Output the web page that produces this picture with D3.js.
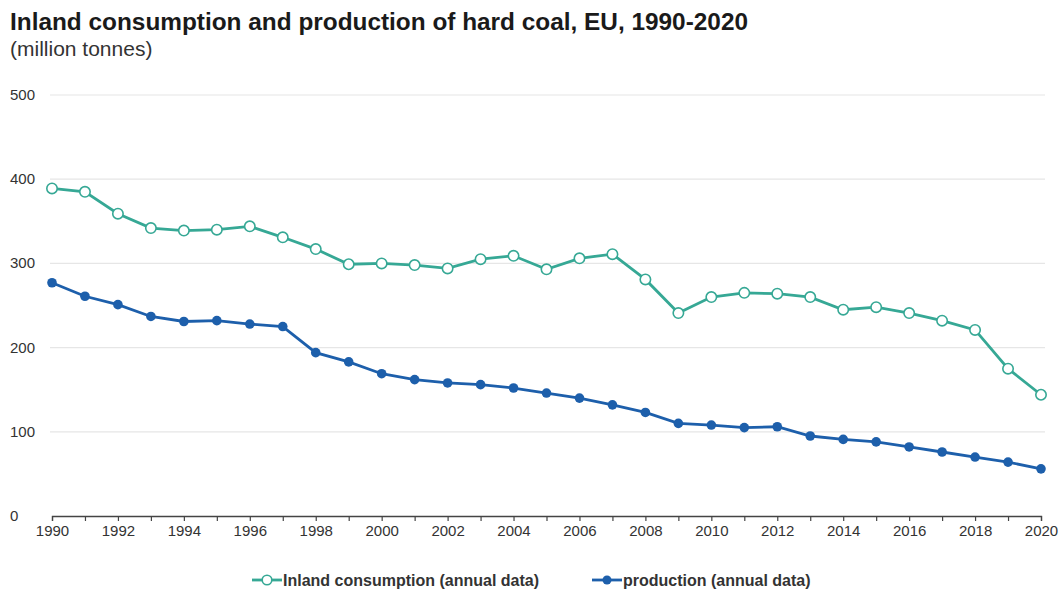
<!DOCTYPE html>
<html>
<head>
<meta charset="utf-8">
<script src="https://cdn.jsdelivr.net/npm/d3@7"></script>
<style>
  html, body { margin: 0; padding: 0; background: #fff; }
  svg { display: block; font-family: "Liberation Sans", Arial, sans-serif; }
</style>
</head>
<body>
<svg id="chart" width="1063" height="594"></svg>
<script>
// Hard coal, EU, million tonnes
const years = d3.range(1990, 2021);
const consumption = [389, 385, 359, 342, 339, 340, 344, 331, 317, 299,
                     300, 298, 294, 305, 309, 293, 306, 311, 281, 241,
                     260, 265, 264, 260, 245, 248, 241, 232, 221, 175, 144];
const production = [277, 261, 251, 237, 231, 232, 228, 225, 194, 183,
                    169, 162, 158, 156, 152, 146, 140, 132, 123, 110,
                    108, 105, 106, 95, 91, 88, 82, 76, 70, 64, 56];
const yTicks = [0, 100, 200, 300, 400, 500];
const xLabelYears = d3.range(1990, 2021, 2);

const title = "Inland consumption and production of hard coal, EU, 1990-2020";
const subtitle = "(million tonnes)";
const seriesNames = ["Inland consumption (annual data)", "production (annual data)"];

const tealColor = "#36a895";
const blueColor = "#1d5fab";

const svg = d3.select("#chart");
const margin = { left: 52, right: 22, top: 95, bottom: 78 };
const W = 1063, H = 594;

const x = d3.scaleLinear().domain([1990, 2020]).range([margin.left, W - margin.right]);
const y = d3.scaleLinear().domain([0, 500]).range([H - margin.bottom, margin.top]);

// title block
svg.append("text").attr("x", 10).attr("y", 30)
  .attr("font-size", 23).attr("font-weight", "bold").attr("fill", "#1a1a1a")
  .attr("textLength", 738).attr("lengthAdjust", "spacingAndGlyphs")
  .text(title);
svg.append("text").attr("x", 10).attr("y", 56)
  .attr("font-size", 21).attr("fill", "#333")
  .text(subtitle);

// horizontal gridlines
svg.append("g").selectAll("line").data(yTicks.filter(d => d > 0)).join("line")
  .attr("x1", x(1990) - 2).attr("x2", W - 18)
  .attr("y1", d => y(d)).attr("y2", d => y(d))
  .attr("stroke", "#e6e6e6").attr("stroke-width", 1.2);

// y labels
svg.append("g").selectAll("text").data(yTicks).join("text")
  .attr("x", 10).attr("y", d => y(d) + 5)
  .attr("font-size", 15).attr("fill", "#333")
  .text(d => d);

// x axis
const xAxis = d3.axisBottom(x)
  .tickValues(years)
  .tickSize(5)
  .tickFormat(d => (xLabelYears.includes(d) ? d : ""));
const gx = svg.append("g").attr("transform", `translate(0,${y(0)})`).call(xAxis);
gx.select(".domain").attr("stroke", "#444").attr("stroke-width", 1.3);
gx.selectAll(".tick line").attr("stroke", "#444").attr("stroke-width", 1.2);
gx.selectAll(".tick text").attr("font-size", 15).attr("fill", "#333")
  .attr("font-family", "Liberation Sans, Arial, sans-serif").attr("dy", "0.78em");

// lines
const line = d3.line().x((d, i) => x(years[i])).y(d => y(d));

svg.append("path").datum(consumption)
  .attr("fill", "none").attr("stroke", tealColor).attr("stroke-width", 2.8)
  .attr("d", line);
svg.append("path").datum(production)
  .attr("fill", "none").attr("stroke", blueColor).attr("stroke-width", 2.8)
  .attr("d", line);

// markers
svg.append("g").selectAll("circle").data(consumption).join("circle")
  .attr("cx", (d, i) => x(years[i])).attr("cy", d => y(d)).attr("r", 5.2)
  .attr("fill", "#fff").attr("stroke", tealColor).attr("stroke-width", 1.6);
svg.append("g").selectAll("circle").data(production).join("circle")
  .attr("cx", (d, i) => x(years[i])).attr("cy", d => y(d)).attr("r", 4.8)
  .attr("fill", blueColor);

// legend
const legendY = 580;
const legendItems = [
  { name: seriesNames[0], color: tealColor, hollow: true, x0: 252 },
  { name: seriesNames[1], color: blueColor, hollow: false, x0: 592 }
];
const lg = svg.append("g").selectAll("g").data(legendItems).join("g");
lg.append("line")
  .attr("x1", d => d.x0).attr("x2", d => d.x0 + 30)
  .attr("y1", legendY).attr("y2", legendY)
  .attr("stroke", d => d.color).attr("stroke-width", 2.8);
lg.append("circle")
  .attr("cx", d => d.x0 + 15).attr("cy", legendY).attr("r", d => d.hollow ? 4.8 : 4.5)
  .attr("fill", d => d.hollow ? "#fff" : d.color)
  .attr("stroke", d => d.color).attr("stroke-width", d => d.hollow ? 1.6 : 0);
lg.append("text")
  .attr("x", d => d.x0 + 31).attr("y", legendY + 6)
  .attr("font-size", 16).attr("font-weight", "bold").attr("fill", "#333")
  .text(d => d.name);
</script>
</body>
</html>
